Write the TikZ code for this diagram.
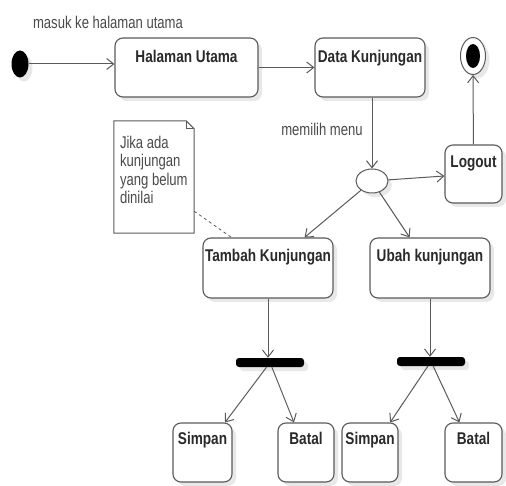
\documentclass[tikz,border=0pt]{standalone}
\usepackage{fontspec}
\setmainfont{Liberation Sans}[FakeStretch=0.77, BoldFeatures={FakeStretch=0.8}]
\usetikzlibrary{arrows.meta,shapes.geometric,calc,shadows}
\definecolor{edge}{HTML}{5A5A5A}
\definecolor{ink}{HTML}{2A2A2A}
\definecolor{shade}{HTML}{E8E8E8}
\begin{document}
\begin{tikzpicture}[x=1pt,y=-1pt,
  softshadow/.style={drop shadow={shadow xshift=4pt, shadow yshift=-4pt, fill=shade, opacity=1}},
  state/.style={draw=edge, line width=1.1pt, rounded corners=8pt, fill=white, inner sep=0pt, softshadow},
  title/.style={font=\fontsize{17}{19}\selectfont\bfseries, text=ink, anchor=base, inner sep=0pt},
  caption/.style={font=\fontsize{17}{18.5}\selectfont, text=ink!85, inner sep=0pt},
  flow/.style={draw=edge, line width=1pt, -{Straight Barb[length=7pt,width=11pt,line width=1pt]}},
  forkbar/.style={fill=black, rounded corners=3pt, inner sep=0pt, minimum width=68pt, minimum height=9pt},
]
\path[use as bounding box] (0,0) rectangle (506,486);

% initial and final states
\node[ellipse, fill=black, minimum width=17pt, minimum height=27pt, inner sep=0pt, softshadow] (start) at (20,64) {};
\node[ellipse, draw=edge, fill=white, line width=1pt, minimum width=25pt, minimum height=37pt, inner sep=0pt, softshadow] (fin) at (473,56) {};
\node[ellipse, fill=black, minimum width=14pt, minimum height=24pt, inner sep=0pt] (fin-dot) at (fin) {};

% activity states
\node[state, minimum width=143pt, minimum height=59pt] (hu) at (186.5,67.5) {};
\node[title] (hu-t) at ($(hu.north)+(0,25)$) {Halaman Utama};
\node[state, minimum width=110pt, minimum height=59pt] (dk) at (370,67.5) {};
\node[title] (dk-t) at ($(dk.north)+(0,25)$) {Data Kunjungan};
\node[state, minimum width=57pt, minimum height=58pt] (lo) at (473.5,174) {};
\node[title] (lo-t) at ($(lo.north)+(0,23)$) {Logout};
\node[state, minimum width=130pt, minimum height=60pt] (tk) at (268,268) {};
\node[title] (tk-t) at ($(tk.north)+(0,24)$) {Tambah Kunjungan};
\node[state, minimum width=120pt, minimum height=60pt] (ub) at (430,268) {};
\node[title] (ub-t) at ($(ub.north)+(0,24)$) {Ubah kunjungan};
\node[state, minimum width=59pt, minimum height=59pt] (s1) at (202.5,452.5) {};
\node[title] (s1-t) at ($(s1.north)+(0,22)$) {Simpan};
\node[state, minimum width=56pt, minimum height=59pt] (b1) at (306,452.5) {};
\node[title] (b1-t) at ($(b1.north)+(0,22)$) {Batal};
\node[state, minimum width=56pt, minimum height=59pt] (s2) at (370,452.5) {};
\node[title] (s2-t) at ($(s2.north)+(0,22)$) {Simpan};
\node[state, minimum width=57pt, minimum height=59pt] (b2) at (473.5,452.5) {};
\node[title] (b2-t) at ($(b2.north)+(0,22)$) {Batal};

% decision and fork bars
\node[ellipse, draw=edge, fill=white, line width=1pt, minimum width=32pt, minimum height=24pt, inner sep=0pt, softshadow] (dec) at (372,181) {};
\node[forkbar, softshadow] (bar1) at (270,362.5) {};
\node[forkbar, softshadow] (bar2) at (431,361.5) {};

% note with folded corner
\node[minimum width=80pt, minimum height=112pt, inner sep=0pt] (note) at (154,177) {};
\draw[edge, line width=1pt, fill=white]
  (note.north west) -- ($(note.north east)+(-8,0)$) -- ($(note.north east)+(0,8)$)
  -- (note.south east) -- (note.south west) -- cycle;
\draw[edge, line width=0.8pt]
  ($(note.north east)+(-8,0)$) -- ($(note.north east)+(-8,8)$) -- ($(note.north east)+(0,8)$);
\node[caption, anchor=north west, align=left] (note-t) at ($(note.north west)+(6,15)$)
  {Jika ada\\kunjungan\\yang belum\\dinilai};
\draw[edge, dashed, line width=0.8pt] ($(note.south east)+(0,-22)$) -- ($(tk.north west)+(29,0)$);

% transition labels
\node[caption] (lbl-masuk) at (108,22) {masuk ke halaman utama};
\node[caption] (lbl-menu) at (322,129) {memilih menu};

% transitions
\draw[flow] (start) -- (start -| hu.west);
\draw[flow] (hu) -- (dk);
\draw[flow] (dk.south -| dec.north) -- (dec.north);
\draw[flow] (dec) -- (lo);
\draw[flow] (lo) -- (fin);
\draw[flow] (dec) -- (tk);
\draw[flow] (dec) -- (ub);
\draw[flow] (tk.south) -- (tk.south |- bar1.north);
\draw[flow] (ub.south) -- (ub.south |- bar2.north);
\draw[flow] (bar1) -- (s1);
\draw[flow] (bar1) -- (b1);
\draw[flow] (bar2) -- (s2);
\draw[flow] (bar2) -- (b2);
\end{tikzpicture}
\end{document}
